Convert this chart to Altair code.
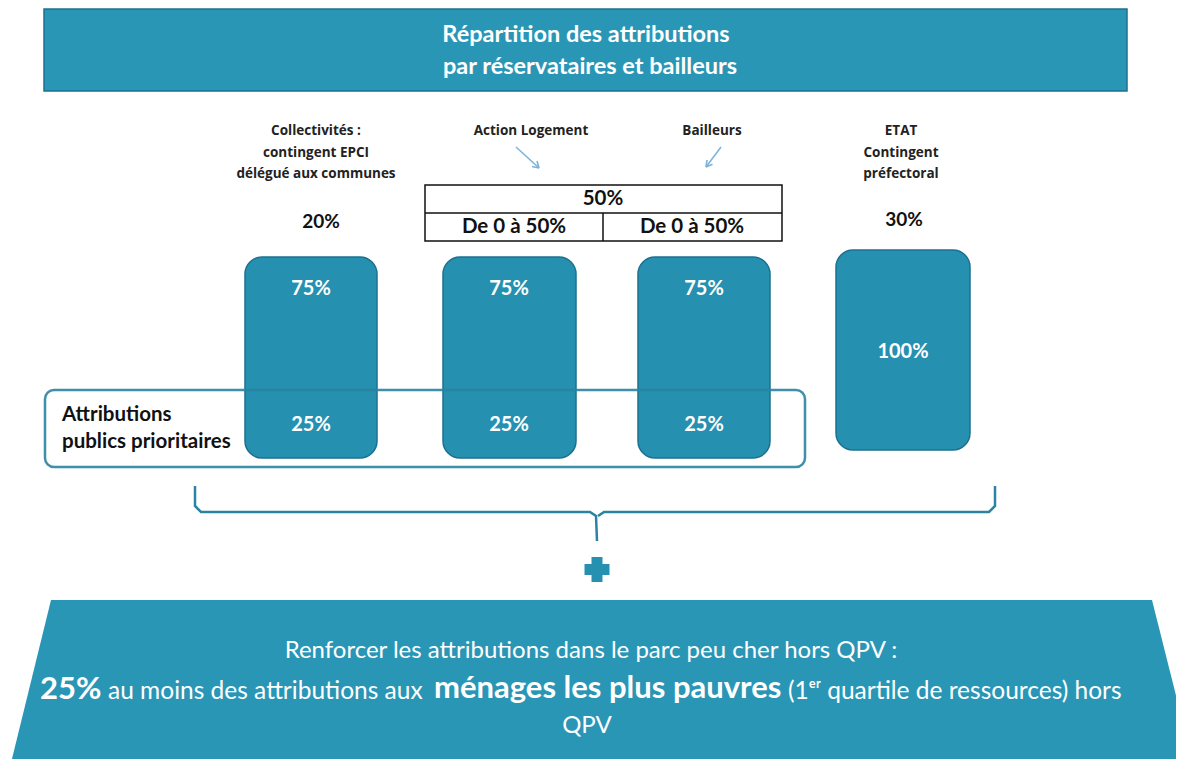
import altair as alt
import pandas as pd

# ---------------- data (text content of the diagram) ----------------
title_lines = ["Répartition des attributions", "par réservataires et bailleurs"]
reservataires = [
    ["Collectivités :", "contingent EPCI", "délégué aux communes"],
    ["Action Logement"],
    ["Bailleurs"],
    ["ETAT", "Contingent", "préfectoral"],
]
contingent_shares = ["20%", "50%", "30%"]
sub_shares = ["De 0 à 50%", "De 0 à 50%"]
part_autres = ["75%", "75%", "75%", "100%"]
part_prioritaires = ["25%", "25%", "25%"]
prioritaires_label = ["Attributions", "publics prioritaires"]
bottom_line1 = "Renforcer les attributions dans le parc peu cher hors QPV :"
bottom_line2 = ["25%", "au moins des attributions aux", "ménages les plus pauvres",
                "(1ᵉʳ quartile de ressources) hors"]
bottom_line3 = "QPV"

# ---------------- layout / style ----------------
TEAL = "#2a96b6"
BOX = "#2590b0"
EDGE = "#1c7190"
LINE = "#2a83a0"
ARROW = "#7db3da"
FONT = "Lato"
HFONT = "Open Sans"

col_cx = [311, 509, 704, 903]
label_cx = [316, 531, 712, 901]
box_x0 = [245, 443, 638, 836]
box_x1 = [377, 576, 770, 970]
box_y0 = [257, 257, 257, 250]
box_y1 = [458, 458, 458, 450]

X = alt.X("x:Q", scale=alt.Scale(domain=[8, 1176], nice=False, zero=False), axis=None)
Y = alt.Y("y:Q", scale=alt.Scale(domain=[8, 759], nice=False, zero=False, reverse=True), axis=None)


def rects(rows, **kw):
    df = pd.DataFrame(rows, columns=["x", "x2", "y", "y2"])
    return alt.Chart(df).mark_rect(**kw).encode(x=X, x2="x2:Q", y=Y, y2="y2:Q")


def segs(rows, **kw):
    df = pd.DataFrame(rows, columns=["x", "x2", "y", "y2"])
    return alt.Chart(df).mark_rule(**kw).encode(x=X, x2="x2:Q", y=Y, y2="y2:Q")


def texts(rows, **kw):
    df = pd.DataFrame(rows, columns=["x", "y", "t"])
    return alt.Chart(df).mark_text(**kw).encode(x=X, y=Y, text="t:N")


layers = []

# top banner
layers.append(rects([(44, 1127, 9, 91)], fill=TEAL, stroke=EDGE, strokeWidth=1.5))
layers.append(texts([(586, 35, title_lines[0]), (590, 67, title_lines[1])],
                    font=FONT, fontSize=23.5, fontWeight="bold", color="white"))

# reservataire labels
lab_rows = []
for i, lines in enumerate(reservataires):
    for j, ln in enumerate(lines):
        lab_rows.append((label_cx[i], 131 + 21.5 * j, ln))
layers.append(texts(lab_rows, font=HFONT, fontSize=13.5, fontWeight="bold", color="#222222"))

# arrows
layers.append(segs([(516, 539, 147, 168), (539, 532, 168, 166.5), (539, 537, 168, 161),
                    (721, 706, 147, 167), (706, 707, 167, 160), (706, 712.5, 167, 164.3)],
                   color=ARROW, strokeWidth=1.6))

# shares
layers.append(texts([(321, 222, contingent_shares[0]), (904, 220, contingent_shares[2])],
                    font=FONT, fontSize=19, fontWeight="bold", color="#111111"))

# table 50%
layers.append(rects([(425, 782, 185, 241)], filled=False, stroke="#111111", strokeWidth=1.5))
layers.append(segs([(425, 782, 213, 213), (603, 603, 213, 241)], color="#111111", strokeWidth=1.5))
layers.append(texts([(603, 199, contingent_shares[1]), (514, 227, sub_shares[0]), (692, 227, sub_shares[1])],
                    font=FONT, fontSize=20.5, fontWeight="bold", color="#111111"))

# boxes
layers.append(rects(list(zip(box_x0, box_x1, box_y0, box_y1)),
                    fill=BOX, stroke=EDGE, strokeWidth=1.5, cornerRadius=17))

# publics prioritaires frame
layers.append(rects([(45, 805, 390, 467)], filled=False, stroke=LINE, strokeWidth=2.5,
                    cornerRadius=9, opacity=0.9))
layers.append(texts([(62, 415, prioritaires_label[0]), (62, 442, prioritaires_label[1])],
                    font=FONT, fontSize=20.5, fontWeight="bold", color="#111111", align="left"))

# box percentages
pct_rows = [(col_cx[i], 289, v) for i, v in enumerate(part_autres[:3])]
pct_rows.append((col_cx[3], 352, part_autres[3]))
pct_rows += [(col_cx[i], 425, v) for i, v in enumerate(part_prioritaires)]
layers.append(texts(pct_rows, font=FONT, fontSize=20, fontWeight="bold", color="white"))

# brace
brace = pd.DataFrame({
    "x": [195, 195, 201, 590, 596, 597, 598, 604, 989, 995, 995],
    "y": [486, 506, 512, 512, 516, 541, 516, 512, 512, 506, 486],
    "g": ["a"] * 6 + ["b"] * 5,
    "o": list(range(11)),
})
layers.append(alt.Chart(brace).mark_line(color=LINE, strokeWidth=2.5).encode(
    x=X, y=Y, detail="g:N", order="o:Q"))

# plus sign
layers.append(rects([(591.5, 602.5, 557, 582), (584.5, 609.5, 564, 575)], fill=BOX))

# bottom trapezoid
trap = pd.DataFrame({"y": [600, 767], "x": [51, 10], "x2": [1152, 1194]})
layers.append(alt.Chart(trap).mark_area(orient="horizontal", color=TEAL, clip=True).encode(
    y=Y, x=X, x2="x2:Q"))

layers.append(texts([(591, 651, bottom_line1), (587, 726, bottom_line3)],
                    font=FONT, fontSize=24, color="white"))
line2 = [(40, 690, bottom_line2[0], 31, "bold"),
         (108, 692, bottom_line2[1], 24.5, "normal"),
         (434, 689, bottom_line2[2], 31, "bold"),
         (788, 692, bottom_line2[3], 24.5, "normal")]
for x0, yy, t, fs, fw in line2:
    layers.append(texts([(x0, yy, t)], font=FONT, fontSize=fs, fontWeight=fw, color="white", align="left"))

chart = alt.layer(*layers).properties(
    width=1168, height=751, padding=0,
    autosize=alt.AutoSizeParams(type="none"),
).configure_view(strokeWidth=0)

chart.save("out.html", embed_options={"renderer": "svg", "actions": False})
